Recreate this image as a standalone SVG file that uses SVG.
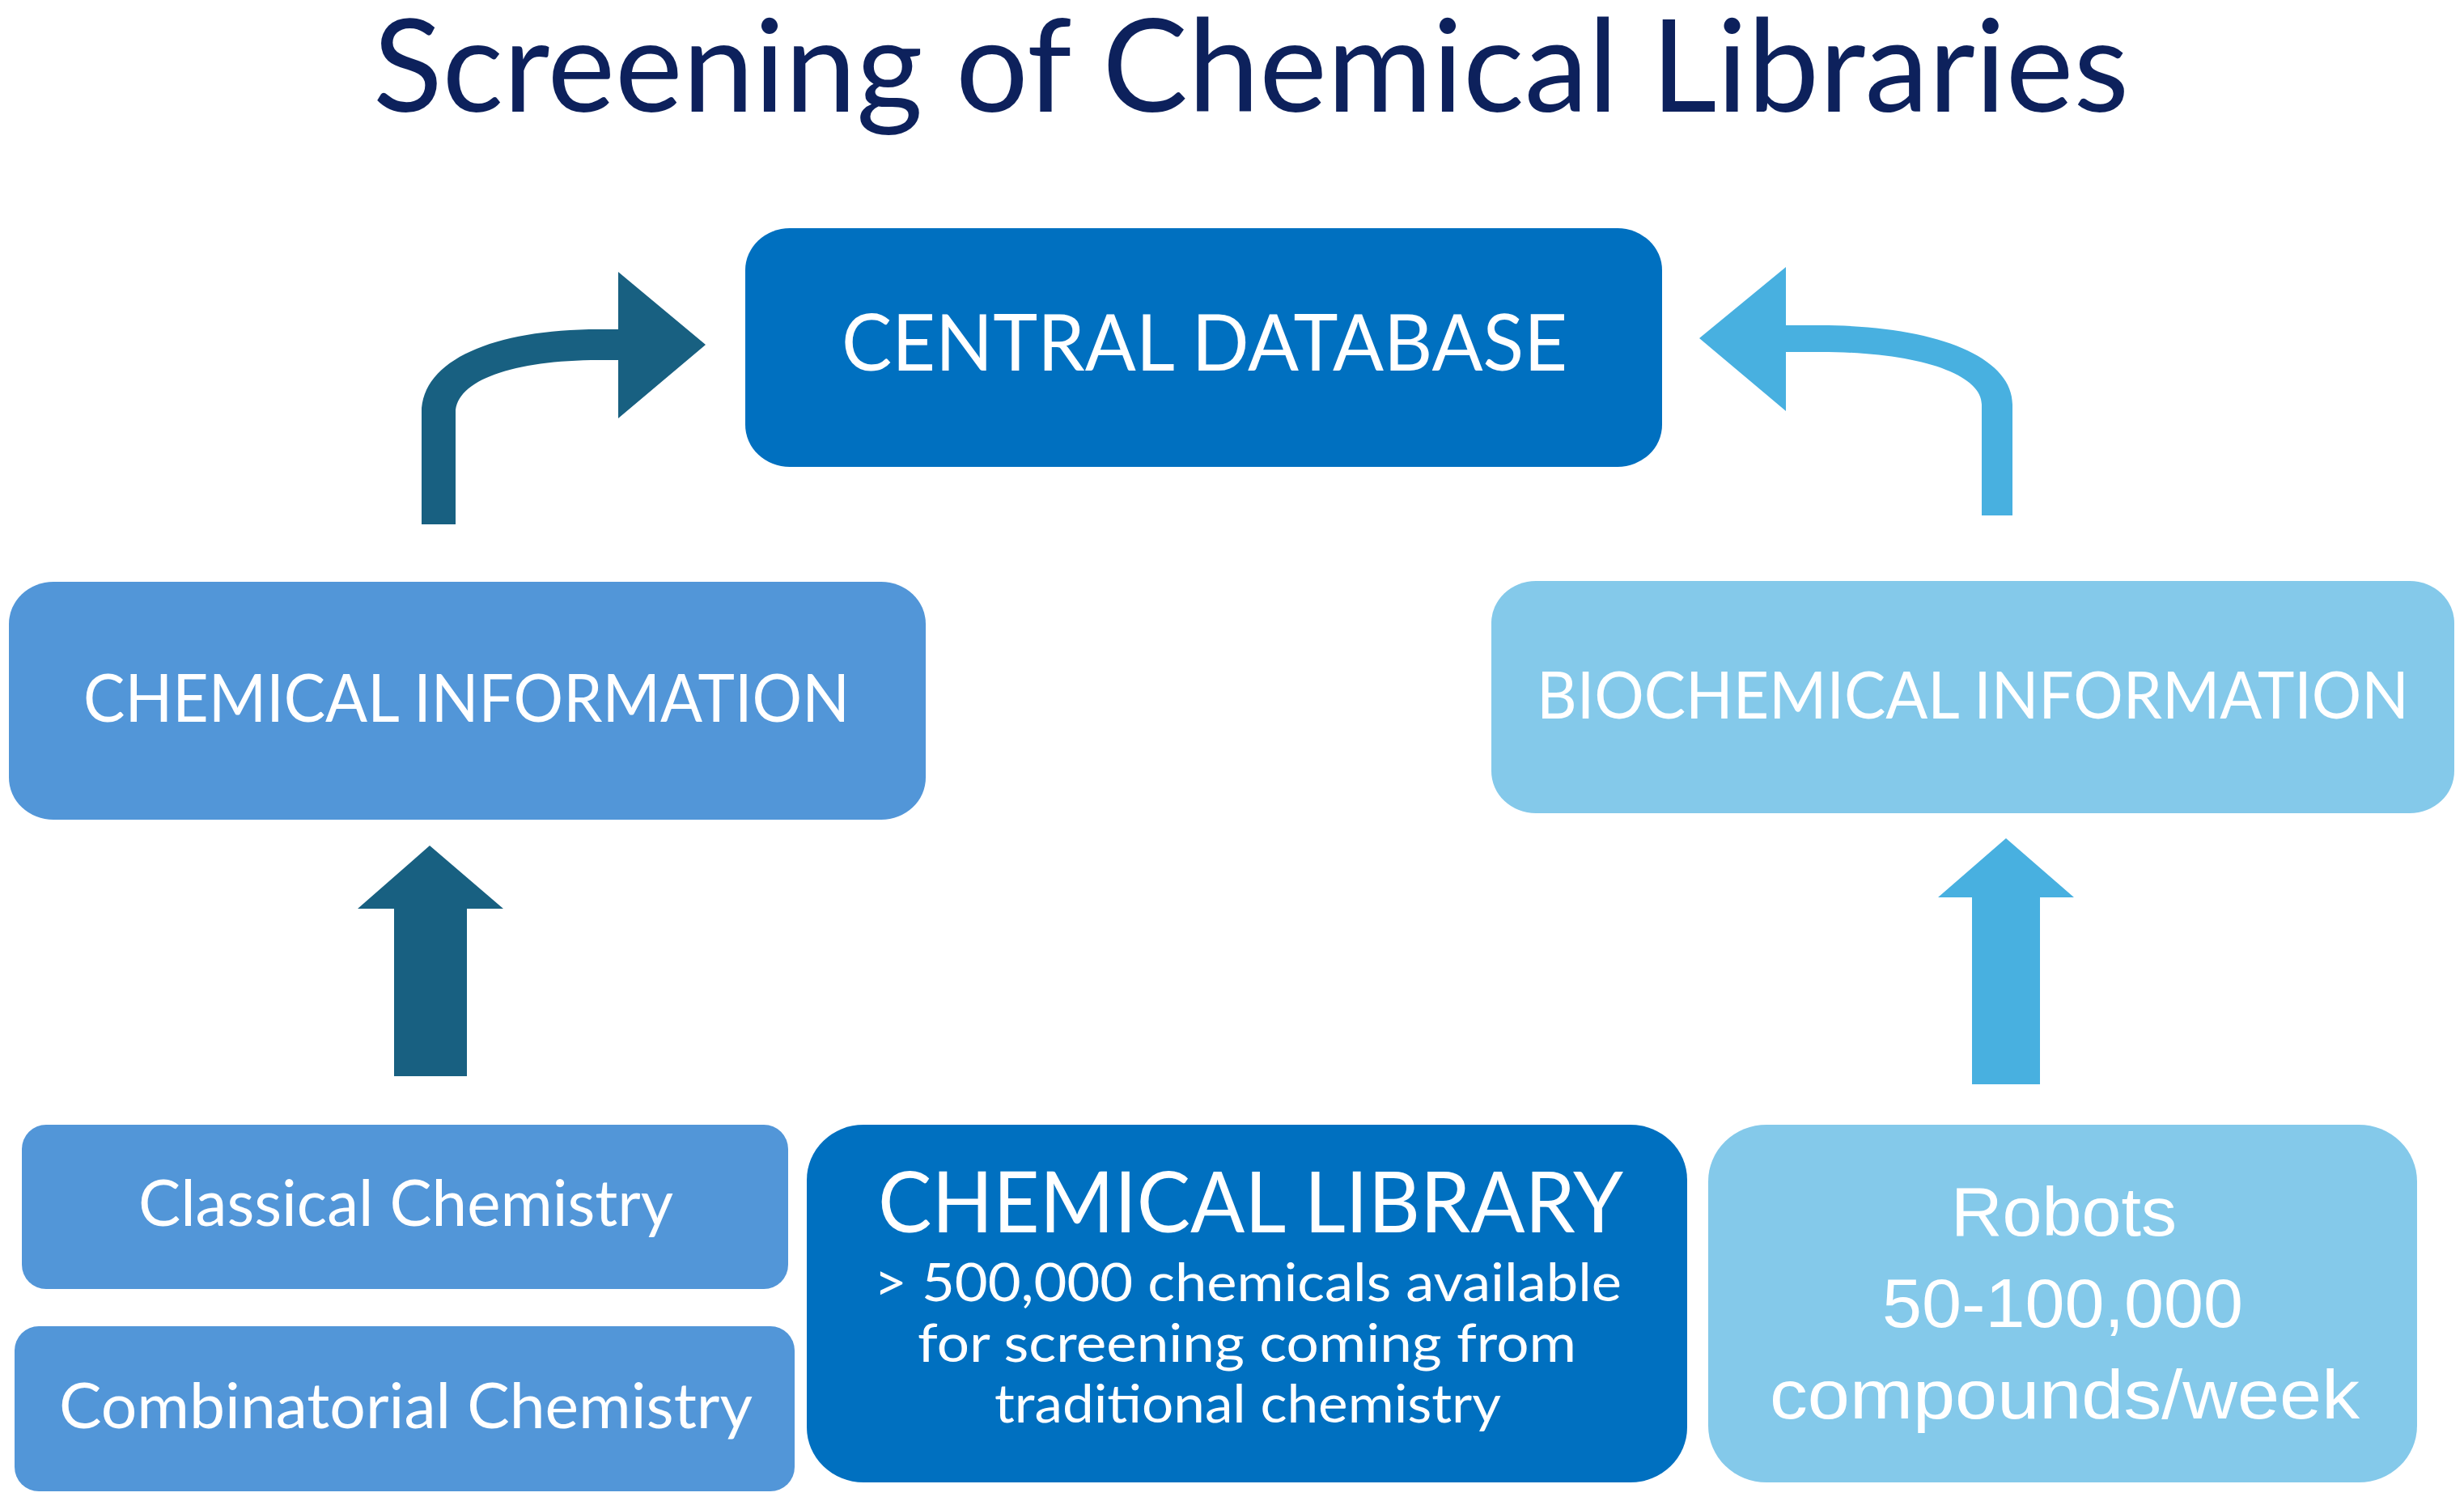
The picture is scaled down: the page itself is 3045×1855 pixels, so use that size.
<svg xmlns="http://www.w3.org/2000/svg" width="3045" height="1855" viewBox="0 0 3045 1855">
  <style>
    .t { font-family: Lato, "Open Sans", "Liberation Sans", sans-serif; fill: #ffffff; }
    .ta { font-family: "Liberation Sans", Arial, sans-serif; fill: #ffffff; }
    .title { font-family: Lato, "Open Sans", "Liberation Sans", sans-serif; fill: #0d215c; }
    .dark { fill: #0070c0; }
    .mid { fill: #5296d8; }
    .light { fill: #84c9ea; }
    .arrDark { fill: #186081; }
    .arrLight { fill: #48b0e0; }
  </style>
  <rect width="3045" height="1855" fill="#ffffff"/>

  <text class="title" x="461" y="138" font-size="160" textLength="2170" lengthAdjust="spacingAndGlyphs">Screening of Chemical Libraries</text>

  <g id="connectors">
    <path class="arrDark" d="M521,648 L521,510 C521,445 610,407 740,407 L764,407 L764,336 L872,426 L764,517 L764,445 L740,445 C635,445 563,470 563,510 L563,648 Z"/>
    <path class="arrLight" d="M2487,637 L2487,500 C2487,440 2390,402 2250,402 L2207,402 L2207,330 L2100,418 L2207,508 L2207,435 L2250,435 C2370,435 2449,462 2449,500 L2449,637 Z"/>
    <path class="arrDark" d="M487,1330 L487,1123 L442,1123 L531,1045 L622,1123 L577,1123 L577,1330 Z"/>
    <path class="arrLight" d="M2437,1340 L2437,1109 L2395,1109 L2479,1036 L2563,1109 L2521,1109 L2521,1340 Z"/>
  </g>

  <g id="central-database">
    <rect class="dark" x="921" y="282" width="1133" height="295" rx="55" ry="52"/>
    <text class="t" x="1040" y="458" font-size="96" textLength="897" lengthAdjust="spacingAndGlyphs">CENTRAL DATABASE</text>
  </g>

  <g id="chemical-information">
    <rect class="mid" x="11" y="719" width="1133" height="294" rx="55" ry="52"/>
    <text class="t" x="103" y="892" font-size="81" textLength="947" lengthAdjust="spacingAndGlyphs">CHEMICAL INFORMATION</text>
  </g>

  <g id="biochemical-information">
    <rect class="light" x="1843" y="718" width="1190" height="287" rx="55" ry="52"/>
    <text class="t" x="1899" y="888" font-size="82" textLength="1078" lengthAdjust="spacingAndGlyphs">BIOCHEMICAL INFORMATION</text>
  </g>

  <g id="classical-chemistry">
    <rect class="mid" x="27" y="1390" width="947" height="203" rx="30" ry="30"/>
    <text class="t" x="171" y="1515" font-size="80" textLength="661" lengthAdjust="spacingAndGlyphs">Classical Chemistry</text>
  </g>

  <g id="combinatorial-chemistry">
    <rect class="mid" x="18" y="1639" width="964" height="204" rx="30" ry="30"/>
    <text class="t" x="73" y="1765" font-size="78" textLength="857" lengthAdjust="spacingAndGlyphs">Combinatorial Chemistry</text>
  </g>

  <g id="chemical-library">
    <rect class="dark" x="997" y="1390" width="1088" height="442" rx="70" ry="68"/>
    <text class="t" x="1085" y="1523" font-size="105" textLength="921" lengthAdjust="spacingAndGlyphs">CHEMICAL LIBRARY</text>
    <text class="t" x="1080" y="1608" font-size="66" textLength="924" lengthAdjust="spacingAndGlyphs">&gt; 500,000 chemicals available</text>
    <text class="t" x="1134" y="1683" font-size="66" textLength="814" lengthAdjust="spacingAndGlyphs">for screening coming from</text>
    <text class="t" x="1229" y="1758" font-size="66" textLength="626" lengthAdjust="spacingAndGlyphs">traditional chemistry</text>
  </g>

  <g id="robots">
    <rect class="light" x="2111" y="1390" width="876" height="442" rx="72" ry="70"/>
    <text class="ta" x="2411" y="1527" font-size="86" textLength="279" lengthAdjust="spacingAndGlyphs">Robots</text>
    <text class="ta" x="2326" y="1640" font-size="86" textLength="446" lengthAdjust="spacingAndGlyphs">50-100,000</text>
    <text class="ta" x="2187" y="1753" font-size="86" textLength="729" lengthAdjust="spacingAndGlyphs">compounds/week</text>
  </g>
</svg>
